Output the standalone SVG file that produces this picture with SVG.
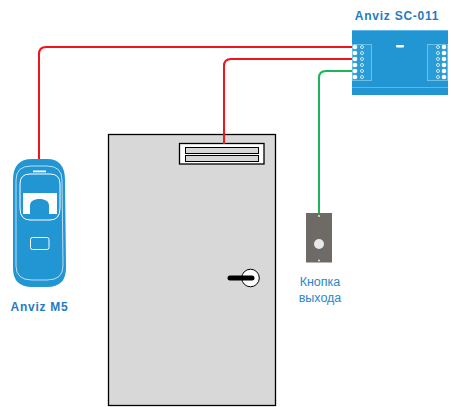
<svg xmlns="http://www.w3.org/2000/svg" width="451" height="407" viewBox="0 0 451 407">
<style>
.t{font-family:"Liberation Sans",Arial,sans-serif;fill:#1f7cc4;text-anchor:middle}
.b{font-weight:bold;font-size:12px;letter-spacing:.75px}
.n{font-size:12.500px;fill:#2a86cf}
.w{fill:none;stroke-width:2}
.o{fill:none;stroke:#fff}
.d{fill:#fff}
.h{fill:#2196d3;stroke:#e4f3fb;stroke-width:.9}
</style>
<rect width="451" height="407" fill="#fff"/>
<g id="door">
<rect x="108.500" y="134.500" width="167" height="271" fill="#d8d8d8" stroke="#000" stroke-width="1.300"/>
<g id="magnet">
<rect x="179.500" y="143.500" width="84.500" height="20.500" fill="#fff" stroke="#000" stroke-width="1.300"/>
<rect x="185.500" y="147.500" width="73" height="6" fill="#d8d8d8" stroke="#000"/>
<rect x="185.500" y="155.500" width="73" height="6" fill="#d8d8d8" stroke="#000"/>
</g>
<g id="lock">
<circle cx="250.500" cy="278" r="8.800" fill="#fff" stroke="#000"/>
<path d="M230 278H252" stroke="#000" stroke-width="5" stroke-linecap="round" fill="none"/>
</g>
</g>
<g id="connectors">
<path class="w" stroke="#f0141e" d="M39 159V54Q39 47 46 47H354"/>
<path class="w" stroke="#f0141e" d="M224 144V66Q224 59 231 59H354"/>
<path class="w" stroke="#1eb45a" d="M319 213V78Q319 71 326 71H354"/>
</g>
<g id="controller">
<rect x="352" y="30" width="96" height="65" fill="#2196d3"/>
<path d="M352 30.500H448M352 87.500H448" stroke="#5db6e6" stroke-width="1" fill="none"/>
<rect x="352.500" y="44.500" width="19" height="36" fill="#2a9cd8" stroke="#6cbfe9"/>
<rect x="427.500" y="44.500" width="20" height="36" fill="#2a9cd8" stroke="#6cbfe9"/>
<rect x="396" y="45" width="8" height="2.500" rx="1" fill="#fff"/>
<g class="d">
<circle cx="355" cy="47" r="2.300"/><circle cx="355" cy="53" r="2.300"/><circle cx="355" cy="59" r="2.300"/><circle cx="355" cy="65" r="2.300"/><circle cx="355" cy="71" r="2.300"/><circle cx="355" cy="77" r="2.300"/>
<circle cx="444" cy="47" r="2.300"/><circle cx="444" cy="53" r="2.300"/><circle cx="444" cy="59" r="2.300"/><circle cx="444" cy="65" r="2.300"/><circle cx="444" cy="71" r="2.300"/><circle cx="444" cy="77" r="2.300"/>
</g>
<g class="h">
<circle cx="362" cy="47" r="1.500"/><circle cx="362" cy="53" r="1.500"/><circle cx="362" cy="59" r="1.500"/><circle cx="362" cy="65" r="1.500"/><circle cx="362" cy="71" r="1.500"/><circle cx="362" cy="77" r="1.500"/>
<circle cx="438" cy="47" r="1.500"/><circle cx="438" cy="53" r="1.500"/><circle cx="438" cy="59" r="1.500"/><circle cx="438" cy="65" r="1.500"/><circle cx="438" cy="71" r="1.500"/><circle cx="438" cy="77" r="1.500"/>
</g>
<text class="t b" x="397" y="20">Anviz SC-011</text>
</g>
<g id="reader">
<path d="M13 180Q13 159 32 159H47Q65 159 65 180L66 268Q66 287 47 287H32Q13 287 13 268Z" fill="#2196d3"/>
<path class="o" d="M20 184Q20 174 30 174H50Q60 174 60 184V208Q60 220 50 220H30Q20 220 20 208Z"/>
<path class="o" d="M16 180Q16 166 31 166H47Q62 166 62 180L63 266Q63 280 47 280H32Q16 280 16 266Z" stroke-width=".7"/>
<path d="M23 193H57V214H23Z" fill="#fff"/>
<path d="M30 214V206C30 201 34 199 39.500 199C45 199 49 201 49 206V214Z" fill="#2196d3"/>
<rect x="30.500" y="237.500" width="18.500" height="12" rx="2" class="o"/>
<rect x="33" y="170.500" width="13" height="1.800" fill="#fff"/>
<text class="t b" x="39.500" y="311">Anviz M5</text>
</g>
<g id="exit-button">
<rect x="306" y="213" width="26" height="49.500" fill="#6e6a66"/>
<circle cx="319" cy="244" r="5" fill="#e8e8e8"/>
<circle cx="319" cy="216" r="1" fill="#e8e8e8"/>
<circle cx="319" cy="260.500" r="1" fill="#e8e8e8"/>
<text class="t n" x="320" y="286">Кнопка</text>
<text class="t n" x="320" y="302">выхода</text>
</g>
</svg>
